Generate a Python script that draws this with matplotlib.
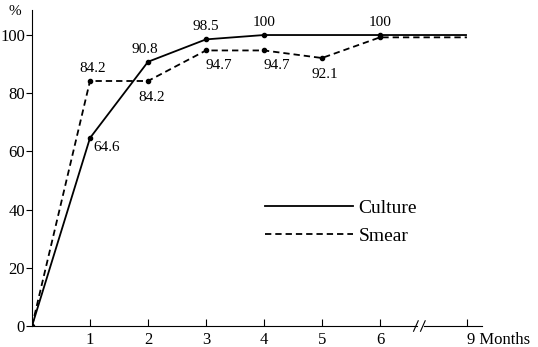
import matplotlib
matplotlib.use("Agg")
import matplotlib.pyplot as plt
from matplotlib.lines import Line2D

plt.rcParams['font.family'] = ['Liberation Serif', 'DejaVu Serif']

# data
culture_months = [0, 1, 2, 3, 4, 6, 9]
culture_vals = [0, 64.6, 90.8, 98.5, 100, 100, 100]
smear_months = [0, 1, 2, 3, 4, 5, 6, 9]
smear_vals = [0, 84.2, 84.2, 94.7, 94.7, 92.1, 99.2, 99.2]
tick_months = [1, 2, 3, 4, 5, 6, 9]
y_ticks = [0, 20, 40, 60, 80, 100]

# labels shown next to the points: (month, value, text, dx, dy) offsets in points
culture_labels = [(1, 64.6, '64.6', 12, -7), (2, 90.8, '90.8', -2, 9),
                  (3, 98.5, '98.5', 0, 9), (4, 100, '100', 0, 9), (6, 100, '100', 0, 9)]
smear_labels = [(1, 84.2, '84.2', 2, 9), (2, 84.2, '84.2', 3, -12),
                (3, 94.7, '94.7', 9, -11), (4, 94.7, '94.7', 9, -11), (5, 92.1, '92.1', 2, -12)]

dash = (0, (3.5, 2.2))


def pos(m):
    # broken axis: months after 6 are compressed
    return m if m <= 6 else 6 + (m - 6) * 0.5


fig = plt.figure(figsize=(5.38, 3.47), dpi=100)
ax = fig.add_axes([32 / 538, 21 / 347, 450 / 538, 316 / 347])

cx = [pos(m) for m in culture_months]
sx = [pos(m) for m in smear_months]
ax.plot(cx, culture_vals, color='black', lw=1.3, solid_capstyle='butt')
ax.plot(sx, smear_vals, color='black', lw=1.3, ls=dash)
ax.plot(cx[:-1], culture_vals[:-1], 'o', color='black', ms=3)
ax.plot(sx[1:-1], smear_vals[1:-1], 'o', color='black', ms=3)

for m, v, t, dx, dy in culture_labels + smear_labels:
    ax.annotate(t, (pos(m), v), xytext=(dx, dy), textcoords='offset points',
                ha='center', va='center', fontsize=11)

ax.set_xlim(0, 7.76)
ax.set_ylim(0, 108.6)
ax.set_xticks([pos(m) for m in tick_months])
ax.set_xticklabels([str(m) for m in tick_months[:-1]] + ['9 Months'])
labels = ax.get_xticklabels()
labels[-1].set_ha('left')
labels[-1].set_fontsize(13)
labels[-1].set_x(pos(9) - 0.1)
ax.set_yticks(y_ticks)
ax.tick_params(axis='x', direction='in', length=5, labelsize=12, pad=4)
ax.tick_params(axis='y', direction='out', length=4, labelsize=12, pad=1)
for s in ['top', 'right']:
    ax.spines[s].set_visible(False)
ax.spines['bottom'].set_bounds(0, 6.64)
ax.plot([6.76, 7.76], [0, 0], color='black', lw=0.8, clip_on=False)
# break marks
for bx in [6.62, 6.74]:
    ax.plot([bx - 0.04, bx + 0.04], [-1.8, 1.8], color='black', lw=0.8, clip_on=False)

ax.text(-0.3, 108, '%', ha='center', va='center', fontsize=11)

# legend
handles = [Line2D([], [], color='black', lw=1.3),
           Line2D([], [], color='black', lw=1.3, ls=dash)]
ax.legend(handles, ['Culture', 'Smear'], loc='upper left', bbox_to_anchor=(0.518, 0.40),
          frameon=False, fontsize=14, handlelength=4.5, handletextpad=0.3,
          labelspacing=0.5, borderpad=0, borderaxespad=0)

fig.savefig('out.png', dpi=100)
